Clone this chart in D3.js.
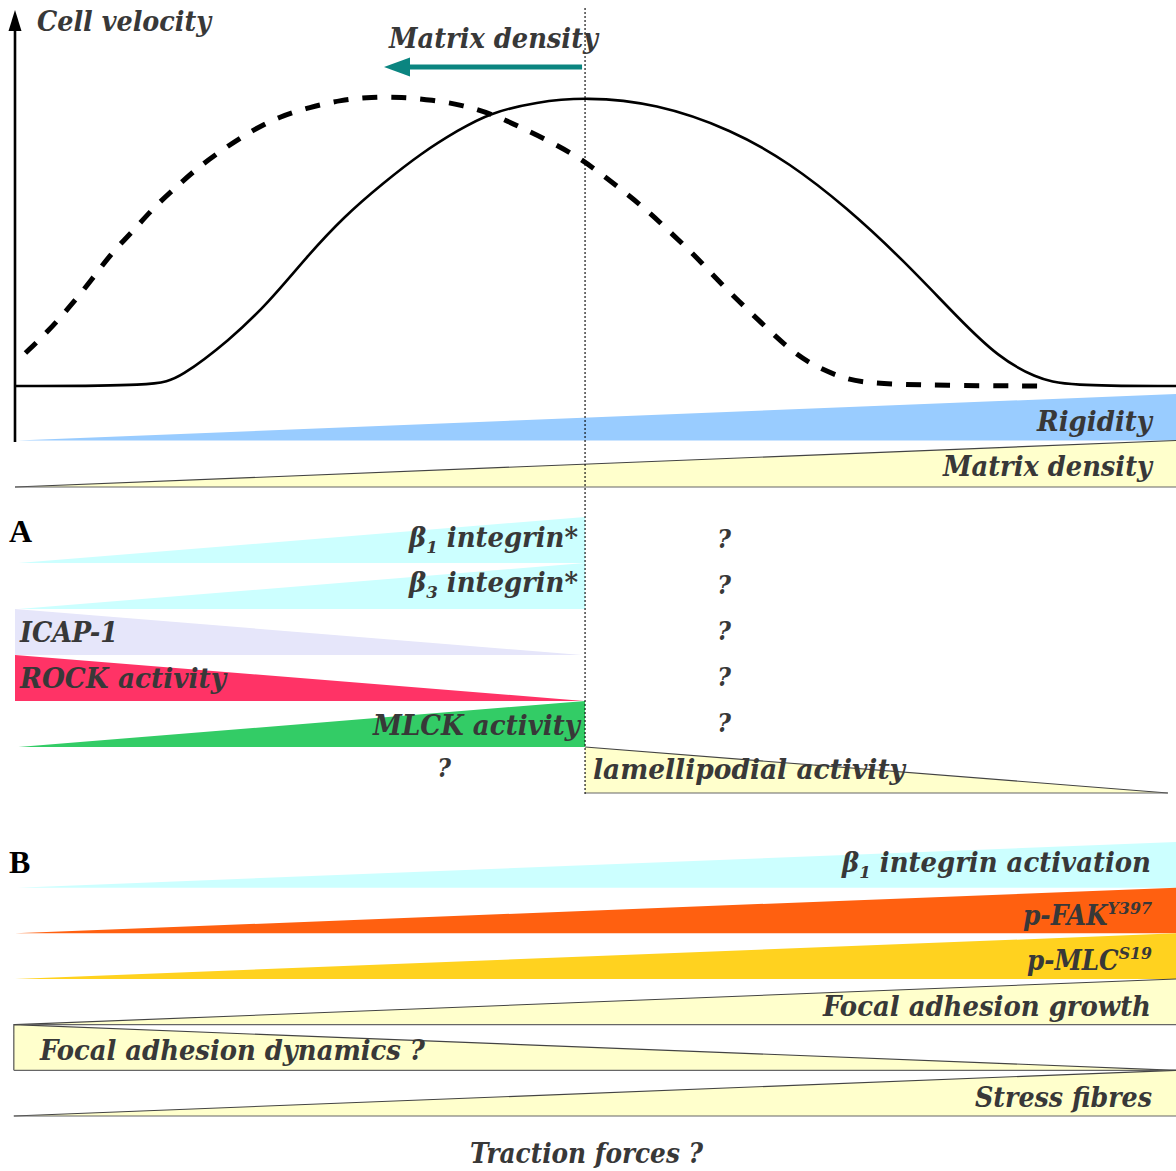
<!DOCTYPE html>
<html><head><meta charset="utf-8">
<script src="https://cdn.jsdelivr.net/npm/d3@7"></script>
<style>
html,body{margin:0;padding:0;background:#fff;}
svg{display:block;}
.lbl{font-family:"DejaVu Serif Condensed","DejaVu Serif",serif;font-weight:bold;font-style:italic;fill:#383838;}
.panel{font-family:"Liberation Serif","DejaVu Serif",serif;font-weight:bold;fill:#000;}
</style></head><body>
<svg id="c" width="1176" height="1171"></svg>
<script>
// ---------- DATA ----------
// Cell velocity curves (x: substrate rigidity 0-100, y: relative velocity 0-100)
const solidX = [0, 12.2, 14.2, 18.5, 21.8, 25.1, 28.3, 31.7, 35.0, 38.2, 40.9, 44.9, 49.1, 55.2, 61.8, 66.7, 71.6, 76.5, 81.4, 84.7, 87.9, 90.6, 100];
const solidY = [0, 0, 2.8, 15.9, 28.7, 44.6, 58.5, 70.2, 80.6, 88.6, 94.5, 98.3, 100, 97.9, 88.6, 77.2, 61.9, 43.6, 22.8, 10.0, 2.8, 0, 0];
const dashX = [0.9, 2.8, 4.7, 6.6, 8.3, 10.1, 11.9, 13.9, 15.8, 18.2, 20.5, 22.7, 25.4, 28.1, 30.7, 33.3, 35.9, 38.6, 41.3, 43.5, 46.2, 48.5, 50.3, 52.6, 54.7, 56.7, 58.7, 60.5, 62.4, 64.3, 66.3, 68.3, 71.0, 73.6, 88.3];
const dashY = [11.4, 18.7, 27.3, 36.7, 46.0, 53.3, 61.6, 68.9, 75.8, 82.7, 88.6, 93.1, 96.5, 99.0, 100, 100, 99.0, 97.2, 93.8, 89.6, 84.4, 79.2, 74.0, 66.8, 59.9, 52.2, 44.6, 36.7, 29.1, 21.8, 14.2, 8.0, 3.1, 0.3, 0];
const optimumX = 49.1;

// Gradient rows (start/end relative level 0..1, from/to on rigidity axis)
const topRows = ["Rigidity", "Matrix density"];
const topStart = [0, 0], topEnd = [1, 1], topFrom = [0.2, 0], topTo = [100, 100];

const rowsA = ["β_1 integrin*", "β_3 integrin*", "ICAP-1", "ROCK activity", "MLCK activity", "lamellipodial activity"];
const aStart = [0, 0, 1, 1, 0, 1], aEnd = [1, 1, 0, 0, 1, 0];
const aFrom = [0.3, 0.3, 0, 0, 0.3, 49.1], aTo = [49.1, 49.1, 48.8, 49.0, 49.1, 99.3];
const aUnknownRows = ["β_1 integrin*", "β_3 integrin*", "ICAP-1", "ROCK activity", "MLCK activity"];
const aUnknownLeftRow = "lamellipodial activity";

const rowsB = ["β_1 integrin activation", "p-FAK^Y397", "p-MLC^S19", "Focal adhesion growth", "Focal adhesion dynamics ?", "Stress fibres"];
const bStart = [0, 0, 0, 0, 1, 0], bEnd = [1, 1, 1, 1, 0, 1];
const bFrom = [0.2, 0, 0, 0, -0.1, -0.1], bTo = [100, 100, 100, 100, 100, 100];

// ---------- STYLE / LAYOUT ----------
const topFill = ["#99ccff", "#ffffcc"], topStroke = [false, true];
const aFill = ["#ccffff", "#ccffff", "#e6e6fa", "#ff3366", "#33cc66", "#ffffcc"], aStroke = [false, false, false, false, false, true];
const bFill = ["#ccffff", "#ff6010", "#ffd21f", "#ffffcc", "#ffffcc", "#ffffcc"], bStroke = [false, false, false, true, true, true];
const topLab = [{x:1037,w:115,y:431},{x:943,w:209,y:476}];
const aLab = [{x:409,w:169,y:547},{x:409,w:169,y:592},{x:20,w:98,y:642},{x:20,w:206,y:688},{x:373,w:207,y:735},{x:593,w:312,y:779}];
const bLab = [{x:842,w:309,y:872},{x:1023,w:129,y:925},{x:1027,w:125,y:970},{x:823,w:328,y:1016},{x:40,w:385,y:1060},{x:975,w:177,y:1107}];

const svg = d3.select("#c");
const xS = d3.scaleLinear().domain([0, 100]).range([15, 1176]);
const yV = d3.scaleLinear().domain([0, 100]).range([386, 97]);
const FS = 27;

function addLabel(g, txt, x, y, w, size) {
  const t = g.append("text").attr("class", "lbl").attr("x", x).attr("y", y)
    .style("font-size", size + "px");
  const m = txt.match(/^(.*?)([_^])(\S+)(.*)$/);
  if (!m) { t.text(txt); }
  else {
    const sub = m[2] === "_";
    t.append("tspan").text(m[1]);
    t.append("tspan").attr("dy", sub ? 6 : -11).style("font-size", (size * 0.64) + "px").text(m[3]);
    if (m[4]) t.append("tspan").attr("dy", sub ? -6 : 11).text(m[4]);
  }
  if (w) t.attr("textLength", w).attr("lengthAdjust", "spacingAndGlyphs");
  return t;
}

function drawRows(rows, st, en, fr, to, fills, strokes, band) {
  const g = svg.append("g");
  const h = band.bandwidth();
  rows.forEach((r, i) => {
    const bottom = band(r) + h;
    const x0 = xS(fr[i]), x1 = xS(to[i]);
    const pts = [[x0, bottom - st[i] * h], [x1, bottom - en[i] * h], [x1, bottom], [x0, bottom]];
    g.append("path").attr("d", d3.line()(pts) + "Z").attr("fill", fills[i]);
    if (strokes[i]) {
      const edge = (r === "Focal adhesion dynamics ?")
        ? [[x0, bottom], [x0, bottom - st[i] * h], [x1, bottom - en[i] * h]]
        : [[x0, bottom - st[i] * h], [x1, bottom - en[i] * h]];
      g.append("path").attr("d", d3.line()(edge)).attr("fill", "none").attr("stroke", "#444").attr("stroke-width", 1.1);
      g.append("path").attr("d", d3.line()([[x0, bottom], [x1, bottom]])).attr("fill", "none").attr("stroke", "#666").attr("stroke-width", 1.1);
    }
  });
  return g;
}

const bandTop = d3.scaleBand().domain(topRows).range([394, 487]);
const bandA = d3.scaleBand().domain(rowsA).range([517, 793]);
const bandB = d3.scaleBand().domain(rowsB).range([842, 1116]);

drawRows(topRows, topStart, topEnd, topFrom, topTo, topFill, topStroke, bandTop);
drawRows(rowsA, aStart, aEnd, aFrom, aTo, aFill, aStroke, bandA);
drawRows(rowsB, bStart, bEnd, bFrom, bTo, bFill, bStroke, bandB);

// curves
const line = d3.line().x(d => xS(d[0])).y(d => yV(d[1])).curve(d3.curveBasis);
svg.append("path").attr("d", line(dashX.map((x, i) => [x, dashY[i]])))
  .attr("fill", "none").attr("stroke", "#000").attr("stroke-width", 5).attr("stroke-dasharray", "15,14");
svg.append("path").attr("d", line(solidX.map((x, i) => [x, solidY[i]])))
  .attr("fill", "none").attr("stroke", "#000").attr("stroke-width", 2.6);

// axis
svg.append("line").attr("x1", 15).attr("x2", 15).attr("y1", 442).attr("y2", 26).attr("stroke", "#000").attr("stroke-width", 2.6);
svg.append("path").attr("d", "M15,10 L8.5,31 L21.5,31 Z").attr("fill", "#000");

// optimum dotted line
svg.append("line").attr("x1", xS(optimumX)).attr("x2", xS(optimumX)).attr("y1", 8).attr("y2", 795)
  .attr("stroke", "#000").attr("stroke-width", 1.1).attr("stroke-dasharray", "2,2");

// matrix density arrow
svg.append("line").attr("x1", xS(optimumX) - 3).attr("x2", 404).attr("y1", 67).attr("y2", 67).attr("stroke", "#0b8580").attr("stroke-width", 5);
svg.append("path").attr("d", "M384,67 L410,57.5 L410,76.5 Z").attr("fill", "#0b8580");

// labels
const L = svg.append("g");
addLabel(L, "Cell velocity", 37, 31, 174, 28);
addLabel(L, "Matrix density", 389, 48, 209, FS);
topRows.forEach((r, i) => addLabel(L, r, topLab[i].x, topLab[i].y, topLab[i].w, FS));
rowsA.forEach((r, i) => addLabel(L, r, aLab[i].x, aLab[i].y, aLab[i].w, FS));
rowsB.forEach((r, i) => addLabel(L, r, bLab[i].x, bLab[i].y, bLab[i].w, FS));
aUnknownRows.forEach((r, i) => {
  L.append("text").attr("class", "lbl").attr("x", 724).attr("y", bandA(r) + bandA.bandwidth() - 15)
    .attr("text-anchor", "middle").style("font-size", "26px").text("?");
});
L.append("text").attr("class", "lbl").attr("x", 444).attr("y", bandA(aUnknownLeftRow) + bandA.bandwidth() - 16)
  .attr("text-anchor", "middle").style("font-size", "26px").text("?");
addLabel(L, "Traction forces ?", 470, 1163, 233, FS);

L.append("text").attr("class", "panel").attr("x", 9).attr("y", 542).style("font-size", "32px").text("A");
L.append("text").attr("class", "panel").attr("x", 9).attr("y", 873).style("font-size", "32px").text("B");
</script>
</body></html>
